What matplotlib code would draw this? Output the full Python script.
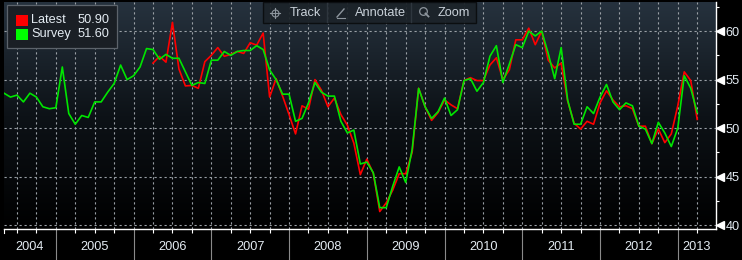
import numpy as np
import matplotlib
matplotlib.use("Agg")
import matplotlib.pyplot as plt
import matplotlib.transforms as mtransforms
from matplotlib.colors import LinearSegmentedColormap
from matplotlib.patches import Rectangle
from matplotlib.lines import Line2D

# ---------------- data ----------------
# Monthly values, first point = Apr 2004, last = Mar 2013
survey = [53.6, 53.2, 53.4, 52.7, 53.6, 53.2, 52.2, 52.0, 52.1, 56.3, 51.5, 50.4,
          51.3, 51.1, 52.7, 52.7, 53.7, 54.6, 56.5, 55.0, 55.4, 56.3, 58.2, 58.1,
          57.1, 57.6, 57.2, 57.2, 55.8, 54.4, 54.7, 54.6, 57.0, 57.0, 57.9, 57.5,
          57.9, 58.0, 58.0, 58.5, 58.1, 56.0, 55.0, 53.5, 53.5, 50.7, 51.0, 52.6,
          54.7, 53.7, 53.3, 53.3, 50.7, 49.5, 49.8, 46.3, 46.5, 45.4, 41.8, 41.8,
          44.0, 46.0, 44.4, 47.8, 54.1, 52.2, 51.0, 51.7, 53.1, 51.3, 51.9, 54.9,
          55.1, 53.8, 54.7, 57.4, 58.5, 54.7, 56.6, 58.6, 58.3, 60.0, 59.5, 60.0,
          57.7, 55.1, 58.3, 52.9, 50.4, 50.4, 52.2, 51.5, 53.2, 54.5, 52.7, 51.9,
          52.6, 52.3, 50.2, 49.9, 48.4, 50.6, 49.5, 48.1, 50.0, 55.4, 54.1, 51.6]
# Latest actual values, first point = Mar 2006
latest = [56.7, 57.4, 56.8, 60.9, 56.1, 54.35, 54.4, 54.1, 56.85, 57.5, 58.3, 57.4,
          57.6, 57.9, 57.7, 58.8, 58.55, 59.8, 53.2, 55.1, 53.3, 51.4, 49.4, 52.3,
          51.95, 55.0, 53.9, 52.2, 53.1, 51.4, 50.3, 48.45, 45.2, 46.8, 45.35, 41.4,
          42.3, 43.6, 45.3, 45.3, 47.5, 54.1, 52.2, 50.8, 51.6, 52.9, 52.4, 52.0,
          54.9, 55.2, 54.9, 54.9, 56.5, 57.25, 55.0, 56.0, 59.1, 59.1, 60.3, 58.6,
          60.0, 57.0, 56.2, 56.7, 52.8, 50.5, 49.9, 50.7, 50.4, 52.6, 53.85, 52.9,
          52.2, 52.3, 52.0, 50.2, 50.2, 48.4, 49.9, 48.5, 49.4, 52.3, 55.8, 54.9, 50.9]
latest_offset = 23          # months after Apr 2004 where "Latest" begins
years = [2004, 2005, 2006, 2007, 2008, 2009, 2010, 2011, 2012, 2013]
y_ticks = [40, 45, 50, 55, 60]
legend_names = ["Latest", "Survey"]
legend_values = ["50.90", "51.60"]
toolbar_items = ["Track", "Annotate", "Zoom"]

# ---------------- figure ----------------
W, H = 742, 260
fig = plt.figure(figsize=(W / 100, H / 100), dpi=100, facecolor="black")
FONT = "Liberation Sans"
TXT = "#e4ecf3"

def fx(x):
    return x / W

def fy(y):
    return 1 - y / H

ax_l, ax_r, ax_t, ax_b = 4, 716, 2, 229
ax = fig.add_axes([fx(ax_l), fy(ax_b), (ax_r - ax_l) / W, (ax_b - ax_t) / H])
ax.set_facecolor("black")

x_survey = np.arange(len(survey))
x_latest = np.arange(latest_offset, latest_offset + len(latest))
xmin, xmax = 0, 109.9
ymin, ymax = 39.6, 63.0
ax.set_xlim(xmin, xmax)
ax.set_ylim(ymin, ymax)

# gradient background
cmap = LinearSegmentedColormap.from_list("bg", ["#000000", "#0d1217", "#26323e"])
grad = np.linspace(0, 1, 256).reshape(-1, 1)
ax.imshow(grad, extent=[xmin, xmax, ymin, ymax], origin="lower", aspect="auto",
          cmap=cmap, zorder=0, interpolation="bicubic")

# grid
year_bounds = [12 * (y - 2004) - 4 for y in years]   # Jan 1 of each year (month index)
quarters = np.arange(2, xmax, 3)
for q in quarters:
    ax.axvline(q, color="#9aa0a6", lw=0.8, ls=(0, (2, 2.5)), zorder=1)
for t in y_ticks:
    ax.axhline(t, color="#9aa0a6", lw=0.8, ls=(0, (2, 2.5)), zorder=1)

# series
ax.plot(x_latest, latest, color="#ff0000", lw=1.2, zorder=3)
ax.plot(x_survey, survey, color="#00e600", lw=1.2, zorder=4)

# spines
for s in ["left", "top"]:
    ax.spines[s].set_visible(False)
ax.spines["right"].set_color("white")
ax.spines["bottom"].set_color("white")
ax.spines["right"].set_linewidth(1.0)
ax.spines["bottom"].set_linewidth(1.0)

# y axis on right
ax.yaxis.tick_right()
ax.set_yticks(y_ticks)
ax.set_yticklabels([str(t) for t in y_ticks], fontfamily=FONT, fontsize=9.2, color=TXT)
ax.set_yticks(np.arange(42.5, 63, 5), minor=True)
ax.tick_params(axis="y", which="major", length=0, pad=6.8)
ax.tick_params(axis="y", which="minor", length=2.5, width=0.8, color="white", direction="out")
tr_y = mtransforms.blended_transform_factory(ax.transAxes, ax.transData)
ax.plot([1.0056] * len(y_ticks), y_ticks, marker="<", ms=5.5, color="white", ls="none",
        transform=tr_y, clip_on=False, zorder=5)

# x axis: year separators and quarter ticks
ax.set_xticks([b for b in year_bounds if xmin < b < xmax])
ax.set_xticklabels([])
ax.set_xticks([q for q in quarters], minor=True)
ax.tick_params(axis="x", which="major", length=22.5, width=0.8, color="#8a8a8a", direction="out")
ax.tick_params(axis="x", which="minor", length=3, width=0.8, color="white", direction="out")
tr_x = mtransforms.blended_transform_factory(ax.transData, ax.transAxes)
label_y = -(247 - ax_b) / (ax_b - ax_t)
for y, b in zip(years, year_bounds):
    s, e = max(b, xmin), min(b + 12, xmax)
    if e > s:
        ax.text((s + e) / 2, label_y, str(y), transform=tr_x, ha="center", va="center",
                fontfamily=FONT, fontsize=9.2, color=TXT, clip_on=False)
# left cap tick
ax.plot([xmin, xmin], [0, -0.018], transform=tr_x, color="white", lw=0.8, clip_on=False)

# ---------------- legend box ----------------
fig.patches.append(Rectangle((fx(7.5), fy(48)), (117 - 7.5) / W, 43 / H, transform=fig.transFigure,
                             facecolor="#1a1f25", edgecolor="#5c636b", lw=0.9, zorder=10))
leg_colors = ["#ff0000", "#00ff00"]
for i, (n, v, c) in enumerate(zip(legend_names, legend_values, leg_colors)):
    yc = 20.3 + 14 * i
    fig.patches.append(Rectangle((fx(16), fy(yc + 5.5)), 11.5 / W, 11 / H, transform=fig.transFigure,
                                 facecolor=c, edgecolor="none", zorder=11))
    fig.text(fx(31), fy(yc), n, fontfamily=FONT, fontsize=9.2, color=TXT, va="center", ha="left", zorder=12)
    fig.text(fx(77.5), fy(yc), v, fontfamily=FONT, fontsize=9.2, color=TXT, va="center", ha="left", zorder=12)

# ---------------- toolbar ----------------
fig.patches.append(Rectangle((fx(262.5), fy(23)), (476 - 262.5) / W, 21 / H, transform=fig.transFigure,
                             facecolor="#1c2329", edgecolor="#0a0c0e", lw=1.0, alpha=0.92, zorder=10))
for xs in [327, 411]:
    fig.lines.append(Line2D([fx(xs), fx(xs)], [fy(3), fy(22)], transform=fig.transFigure,
                            color="#2e363e", lw=1.0, zorder=11))
tb_text_x = [290, 355, 438]
tb_icon_x = [275, 341, 424]
for name, tx in zip(toolbar_items, tb_text_x):
    fig.text(fx(tx), fy(12.5), name, fontfamily=FONT, fontsize=9.2, color="#c9d1d9",
             va="center", ha="left", zorder=12)
ic = "#8d959d"
# crosshair
cx, cy = tb_icon_x[0], 12.5
fig.lines.append(Line2D([fx(cx - 5), fx(cx + 5)], [fy(cy), fy(cy)], transform=fig.transFigure, color=ic, lw=0.8, zorder=12))
fig.lines.append(Line2D([fx(cx), fx(cx)], [fy(cy - 5), fy(cy + 5)], transform=fig.transFigure, color=ic, lw=0.8, zorder=12))
fig.lines.append(Line2D([fx(cx)], [fy(cy)], transform=fig.transFigure, marker="o", ms=5, mfc="none", mec=ic, mew=0.8, zorder=12))
# pencil
px_ = tb_icon_x[1]
fig.lines.append(Line2D([fx(px_ - 4), fx(px_ + 3)], [fy(17), fy(9)], transform=fig.transFigure, color=ic, lw=1.0, zorder=12))
fig.lines.append(Line2D([fx(px_ - 4), fx(px_ + 4)], [fy(17.5), fy(17.5)], transform=fig.transFigure, color=ic, lw=0.8, zorder=12))
# magnifier
mx = tb_icon_x[2]
fig.lines.append(Line2D([fx(mx - 1)], [fy(11)], transform=fig.transFigure, marker="o", ms=5.5, mfc="none", mec=ic, mew=0.9, zorder=12))
fig.lines.append(Line2D([fx(mx + 1.5), fx(mx + 4.5)], [fy(13.5), fy(16.5)], transform=fig.transFigure, color=ic, lw=1.3, zorder=12))

fig.savefig("out.png", dpi=100, facecolor="black")
